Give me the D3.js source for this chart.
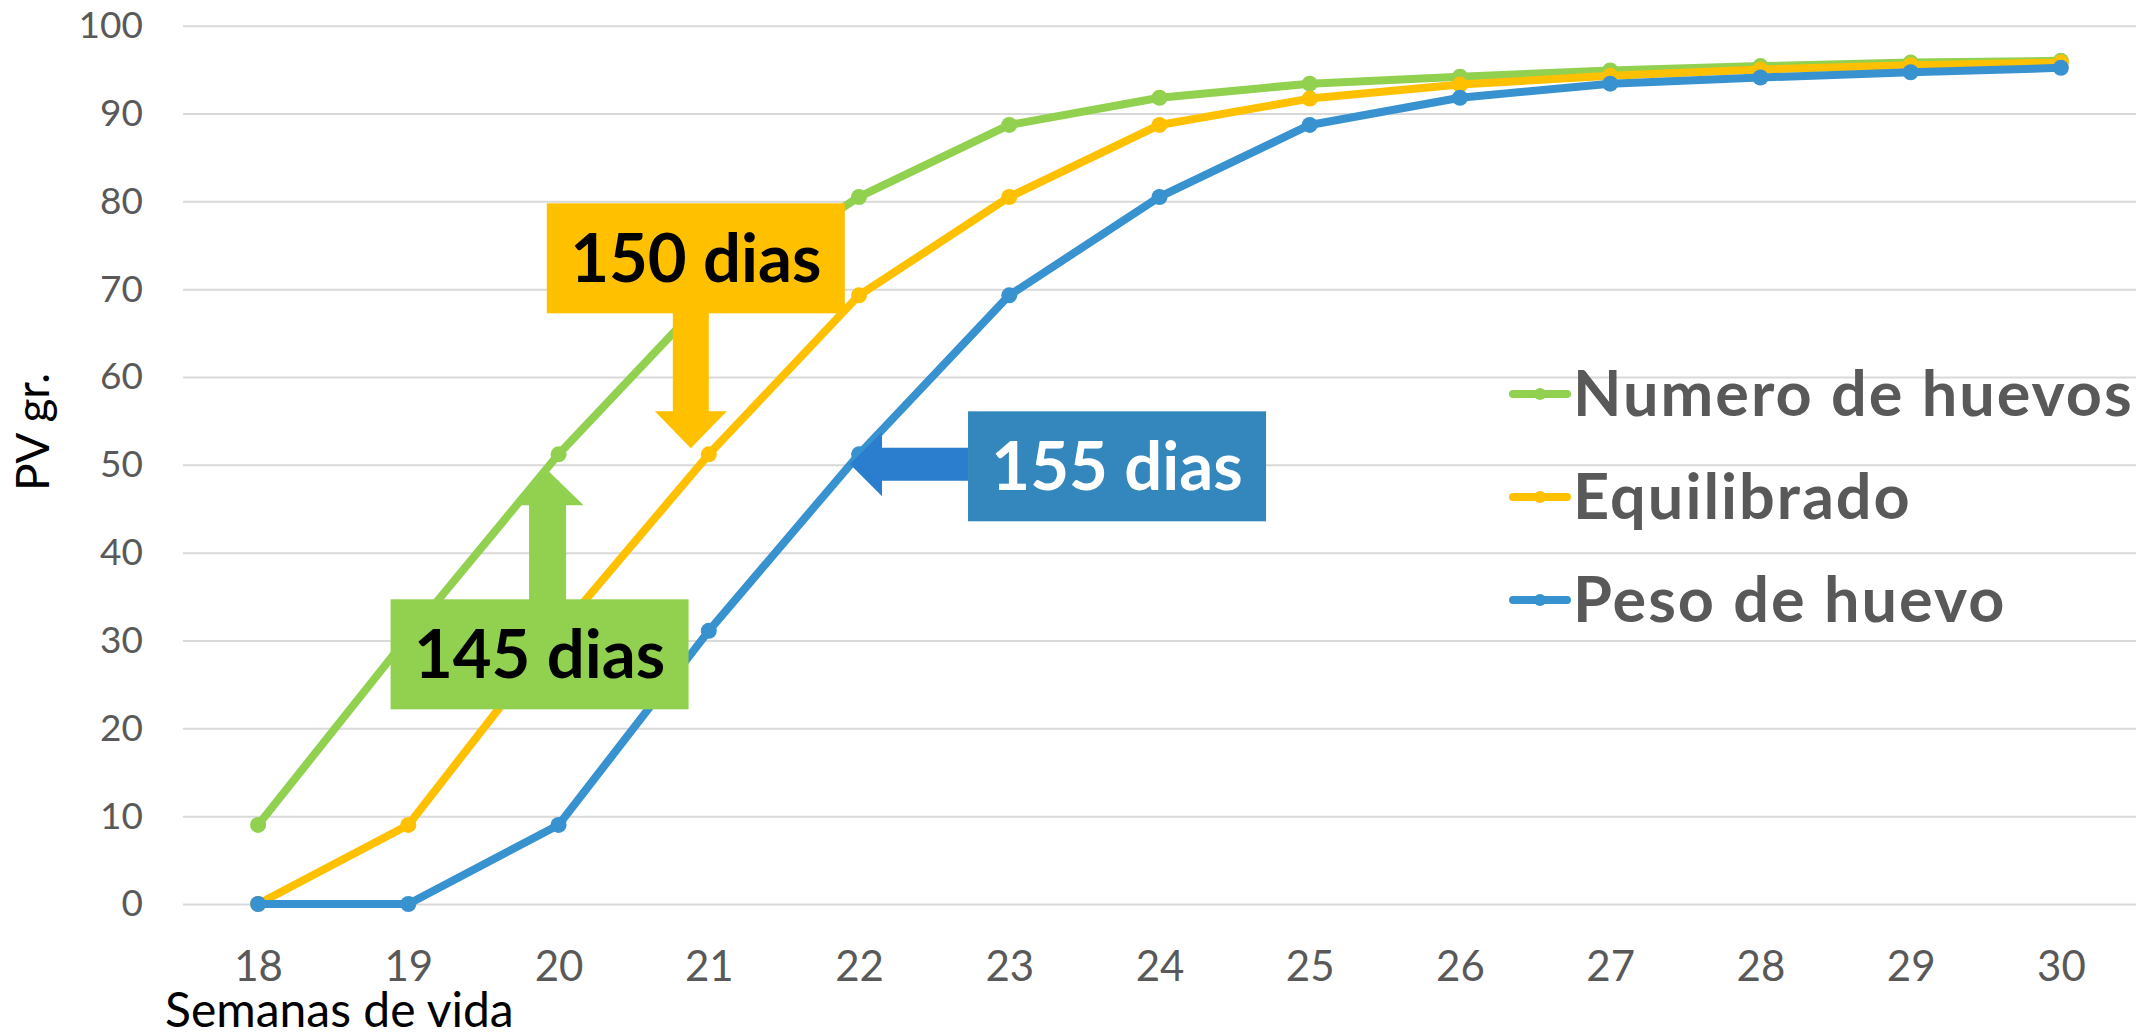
<!DOCTYPE html>
<html>
<head>
<meta charset="utf-8">
<script src="https://cdn.jsdelivr.net/npm/d3@7"></script>
<style>
  body { margin: 0; background: #fff; }
  svg { display: block; font-family: Lato, sans-serif; }
</style>
</head>
<body>
<svg id="chart" width="2149" height="1036"></svg>
<script>
// data
const weeks = [18, 19, 20, 21, 22, 23, 24, 25, 26, 27, 28, 29, 30];
const seriesNames = ['Numero de huevos', 'Equilibrado', 'Peso de huevo'];
const numeroHuevos = [9, 30.5, 51.2, 69.3, 80.5, 88.7, 91.8, 93.4, 94.2, 94.9, 95.4, 95.8, 96.0];
const equilibrado = [0, 9, 31, 51.2, 69.3, 80.5, 88.7, 91.7, 93.3, 94.3, 95.0, 95.5, 95.8];
const pesoHuevo = [0, 0, 9, 31.1, 51.2, 69.3, 80.5, 88.7, 91.8, 93.4, 94.1, 94.7, 95.2];
const yTicks = [0, 10, 20, 30, 40, 50, 60, 70, 80, 90, 100];
const annotLabels = ['145 dias', '150 dias', '155 dias'];
const annotWeeks = [20, 21, 22];

const colors = ['#92D050', '#FFC000', '#3892CF'];
const allSeries = [numeroHuevos, equilibrado, pesoHuevo];

const svg = d3.select('#chart');
const plotLeft = 183, plotRight = 2136, plotTop = 25.7, plotBottom = 904;

const x = d3.scalePoint().domain(weeks).range([plotLeft, plotRight]).padding(0.5);
const y = d3.scaleLinear().domain([0, 100]).range([plotBottom, plotTop]);

//gridlines + y labels
const yAxis = d3.axisLeft(y).tickValues(yTicks).tickSize(-(plotRight - plotLeft)).tickPadding(40);
const yAxisGroup = svg.append('g').attr('transform', `translate(${plotLeft},0)`).call(yAxis);
yAxisGroup.select('.domain').remove();
yAxisGroup.selectAll('line').attr('stroke', '#D9D9D9').attr('stroke-width', 2);
yAxisGroup.selectAll('text')
  .attr('fill', '#595959')
  .style('font-size', '37px')
  .style('font-family', 'Lato, sans-serif');

//x labels
const xAxis = d3.axisBottom(x).tickSize(0).tickPadding(47);
const xAxisGroup = svg.append('g').attr('transform', `translate(0,${plotBottom})`).call(xAxis);
xAxisGroup.select('.domain').remove();
xAxisGroup.selectAll('text')
  .attr('fill', '#595959')
  .style('font-size', '42px')
  .style('font-family', 'Lato, sans-serif');

//axis titles
svg.append('text')
  .attr('x', 165).attr('y', 1027)
  .attr('fill', '#000')
  .style('font-size', '48px')
  .text('Semanas de vida');

svg.append('text')
  .attr('transform', 'translate(49,432) rotate(-90)')
  .attr('text-anchor', 'middle')
  .attr('fill', '#000')
  .style('font-size', '46px')
  .text('PV gr.');

//lines and points
const line = d3.line().x((d, i) => x(weeks[i])).y(d => y(d));

allSeries.forEach((values, s) => {
  const g = svg.append('g');
  g.append('path')
    .datum(values)
    .attr('fill', 'none')
    .attr('stroke', colors[s])
    .attr('stroke-width', 8)
    .attr('stroke-linejoin', 'round')
    .attr('d', line);
  g.selectAll('circle')
    .data(values)
    .enter()
    .append('circle')
    .attr('cx', (d, i) => x(weeks[i]))
    .attr('cy', d => y(d))
    .attr('r', 8)
    .attr('fill', colors[s]);
});

//legend
const legend = svg.append('g');
seriesNames.forEach((name, i) => {
  const ly = 394 + i * 103;
  legend.append('line')
    .attr('x1', 1513).attr('x2', 1567)
    .attr('y1', ly).attr('y2', ly)
    .attr('stroke', colors[i])
    .attr('stroke-width', 8)
    .attr('stroke-linecap', 'round');
  legend.append('circle')
    .attr('cx', 1540).attr('cy', ly).attr('r', 6)
    .attr('fill', colors[i]);
  legend.append('text')
    .attr('x', 1573).attr('y', ly + 22)
    .attr('fill', '#595959')
    .style('font-size', '63px')
    .style('font-weight', 700)
    .style('letter-spacing', '2px')
    .text(name);
});

//annotations: arrow drawn tip at origin, tail along +x, then rotated
const arrowPath = (len, headLen, headHalf, stemHalf) =>
  `M0,0L${headLen},${-headHalf}L${headLen},${-stemHalf}L${len},${-stemHalf}` +
  `L${len},${stemHalf}L${headLen},${stemHalf}L${headLen},${headHalf}Z`;

const boxW = 298, boxH = 110;
const annotConfig = [
  // green, arrow up from box below
  { series: 0, fill: '#92D050', arrowFill: '#92D050', textFill: '#000',
    tipDx: -11, tipDy: 16, rot: 90, len: 131, headLen: 35, headHalf: 36, stemHalf: 18.5,
    boxDx: -157, boxDy: 129 },
  // yellow, arrow down from box above
  { series: 1, fill: '#FFC000', arrowFill: '#FFC000', textFill: '#000',
    tipDx: -18, tipDy: -6, rot: -90, len: 137, headLen: 37, headHalf: 36, stemHalf: 18,
    boxDx: -144, boxDy: -245 },
  // blue, arrow left from box on right
  { series: 2, fill: '#3387BC', arrowFill: '#2B7DCD', textFill: '#fff',
    tipDx: -9, tipDy: 10, rot: 0, len: 118, headLen: 32, headHalf: 32, stemHalf: 16.5,
    boxDx: 118, boxDy: -53 }
];

annotConfig.forEach((c, i) => {
  const wi = weeks.indexOf(annotWeeks[i]);
  const tipX = x(annotWeeks[i]) + c.tipDx;
  const tipY = y(allSeries[c.series][wi]) + c.tipDy;
  const g = svg.append('g');
  g.append('path')
    .attr('transform', `translate(${tipX},${tipY}) rotate(${c.rot})`)
    .attr('d', arrowPath(c.len, c.headLen, c.headHalf, c.stemHalf))
    .attr('fill', c.arrowFill);
  const bx = tipX + c.boxDx, by = tipY + c.boxDy;
  g.append('rect')
    .attr('x', bx).attr('y', by)
    .attr('width', boxW).attr('height', boxH)
    .attr('fill', c.fill);
  g.append('text')
    .attr('x', bx + boxW / 2).attr('y', by + boxH / 2 + 24)
    .attr('text-anchor', 'middle')
    .attr('fill', c.textFill)
    .style('font-size', '67px')
    .style('font-weight', 700)
    .text(annotLabels[i]);
});
</script>
</body>
</html>
